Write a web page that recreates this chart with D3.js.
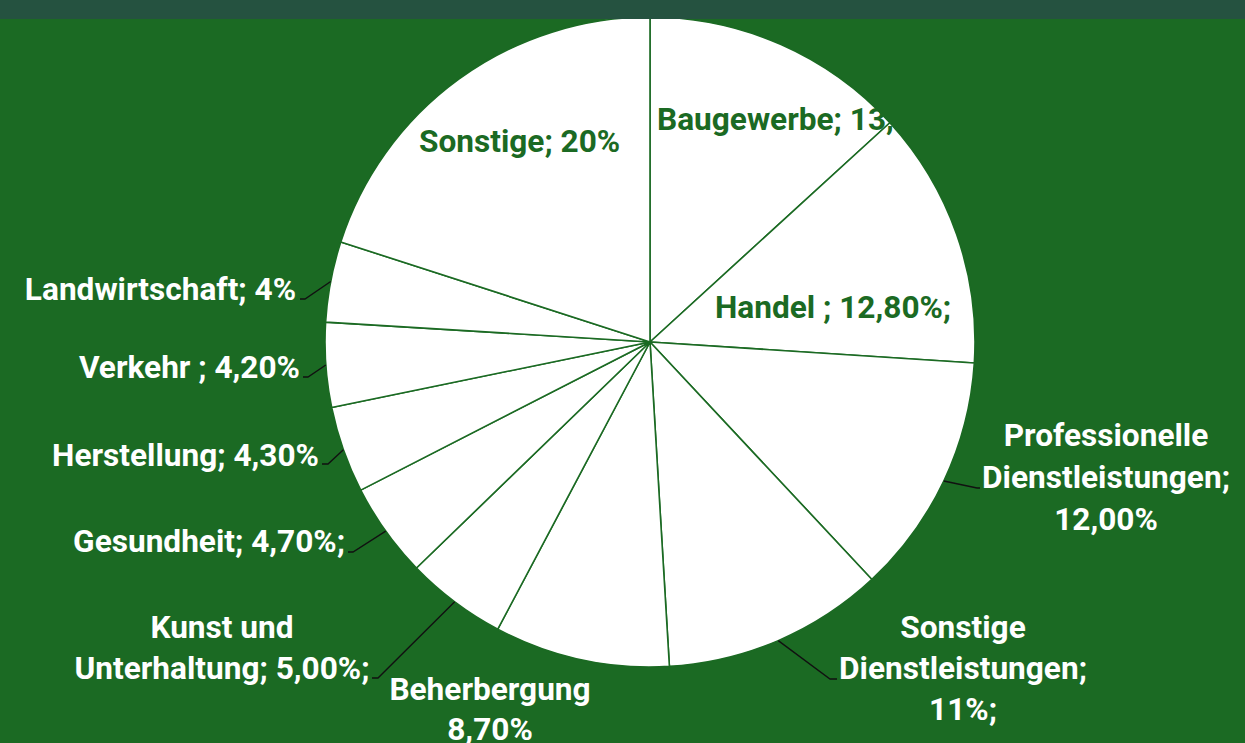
<!DOCTYPE html>
<html>
<head>
<meta charset="utf-8">
<script src="https://cdn.jsdelivr.net/npm/d3@7"></script>
<style>
  html, body { margin: 0; padding: 0; background: #1b6a23; overflow: hidden; }
  svg { display: block; }
  .lbl { font-family: Roboto, "Noto Sans", sans-serif; font-weight: 700; font-size: 31px; }
</style>
</head>
<body>
<svg id="chart"></svg>
<script>
// Branchen und Anteile (in %)
const categories = ['Baugewerbe', 'Handel', 'Professionelle Dienstleistungen', 'Sonstige Dienstleistungen',
    'Beherbergung', 'Kunst und Unterhaltung', 'Gesundheit', 'Herstellung', 'Verkehr', 'Landwirtschaft', 'Sonstige'];
const values = [13.2, 12.8, 12.0, 11.0, 8.7, 5.0, 4.7, 4.3, 4.2, 4.0, 20.0];
const labelLines = [
    ['Baugewerbe; 13,20%'],
    ['Handel ; 12,80%;'],
    ['Professionelle', 'Dienstleistungen;', '12,00%'],
    ['Sonstige', 'Dienstleistungen;', '11%;'],
    ['Beherbergung', '8,70%'],
    ['Kunst und', 'Unterhaltung; 5,00%;'],
    ['Gesundheit; 4,70%;'],
    ['Herstellung; 4,30%'],
    ['Verkehr ; 4,20%'],
    ['Landwirtschaft; 4%'],
    ['Sonstige; 20%']
];

const W = 1245, H = 743;
const cx = 650, cy = 342, R = 325;
const GREEN = '#1b6a23';
const lineH = 41;

// label placement (dragged by hand in the original)
const layout = [
    { x: 657, y: 130, anchor: 'start', inside: true },
    { x: 715, y: 318, anchor: 'start', inside: true },
    { x: 1106, y: 446, anchor: 'middle', lh: 42, leader: [[977, 488], [980, 488]] },
    { x: 963, y: 638, anchor: 'middle', leader: [[830, 679], [837, 679]] },
    { x: 490, y: 700, anchor: 'middle', lh: 40 },
    { x: 222, y: 638, anchor: 'middle', leader: [[378, 678], [372, 678]] },
    { x: 345, y: 552, anchor: 'end', leader: [[353, 552], [348, 552]] },
    { x: 319, y: 466, anchor: 'end', leader: [[328, 464], [322, 464]] },
    { x: 300, y: 378, anchor: 'end', leader: [[308, 377], [303, 377]] },
    { x: 296, y: 300, anchor: 'end', leader: [[305, 299], [300, 299]] },
    { x: 419, y: 152, anchor: 'start', inside: true }
];

const svg = d3.select('#chart').attr('width', W).attr('height', H);

svg.append('rect').attr('width', W).attr('height', H).attr('fill', GREEN);

const data = categories.map((c, i) => ({ name: c, value: values[i], lines: labelLines[i], pos: layout[i] }));

const pie = d3.pie().value(d => d.value).sort(null);
const arc = d3.arc().innerRadius(0).outerRadius(R);
const edgeArc = d3.arc().innerRadius(R).outerRadius(R);

const g = svg.append('g').attr('transform', `translate(${cx},${cy})`);
const arcs = pie(data);

g.selectAll('path.slice')
    .data(arcs)
    .enter()
    .append('path')
    .attr('class', 'slice')
    .attr('d', arc)
    .attr('fill', '#ffffff')
    .attr('stroke', GREEN)
    .attr('stroke-width', 1.6)
    .attr('stroke-linejoin', 'round');

// leader lines
svg.selectAll('path.leader')
    .data(arcs.filter(a => a.data.pos.leader))
    .enter()
    .append('path')
    .attr('class', 'leader')
    .attr('d', a => {
        const c = edgeArc.centroid(a);
        const pts = [[cx + c[0], cy + c[1]]].concat(a.data.pos.leader);
        return d3.line()(pts);
    })
    .attr('fill', 'none')
    .attr('stroke', '#111')
    .attr('stroke-width', 1.4);

// labels
const sx = 1.02;
const labels = svg.selectAll('g.label')
    .data(arcs)
    .enter()
    .append('g')
    .attr('class', 'label')
    .attr('transform', a => `translate(${a.data.pos.x},${a.data.pos.y}) scale(${sx},1)`);

labels.append('text')
    .attr('class', 'lbl')
    .attr('text-anchor', a => a.data.pos.anchor)
    .attr('fill', a => a.data.pos.inside ? GREEN : '#ffffff')
    .selectAll('tspan')
    .data(a => a.data.lines.map((t, i) => ({ t, i, lh: a.data.pos.lh || lineH })))
    .enter()
    .append('tspan')
    .attr('x', 0)
    .attr('y', d => d.i * d.lh)
    .text(d => d.t);

// header band
svg.append('rect').attr('x', 0).attr('y', 0).attr('width', W).attr('height', 19).attr('fill', '#255240');
</script>
</body>
</html>
